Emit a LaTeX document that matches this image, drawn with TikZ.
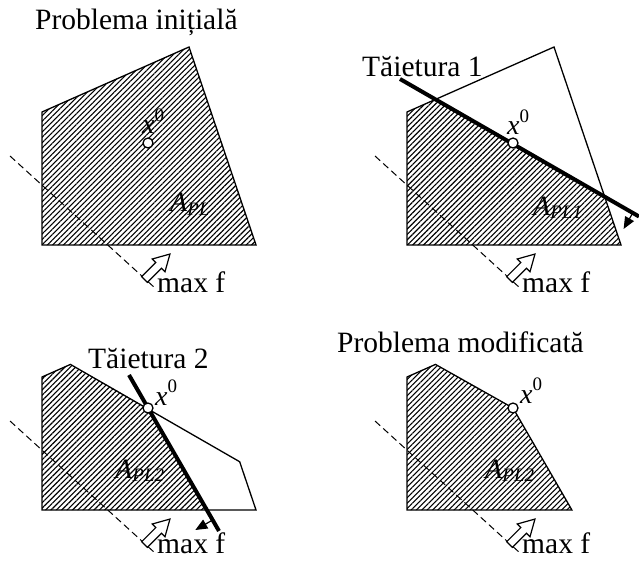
\documentclass[tikz,border=0pt]{standalone}
\usepackage{fontspec}
\setmainfont{Liberation Serif}
\usetikzlibrary{patterns.meta,arrows.meta,calc}

\newcommand\defgeom[1]{%
  \coordinate (P1#1) at (42,245);
  \coordinate (P2#1) at (42,112);
  \coordinate (P3#1) at (189,47);
  \coordinate (P4#1) at (256,245);
  \coordinate (X0#1) at (148,143);
  \coordinate (CutA#1) at (35,79);
  \coordinate (CutB#1) at (274,216.5);
  \coordinate (CutC#1) at (129,110);
  \coordinate (CutD#1) at (219,266);
  \coordinate (Ka#1) at (intersection of P2#1--P3#1 and CutA#1--CutB#1);
  \coordinate (Kb#1) at (intersection of P3#1--P4#1 and CutA#1--CutB#1);
  \coordinate (Lb#1) at (intersection of P1#1--P4#1 and CutC#1--CutD#1);
  \coordinate (D1#1) at (10,156);
  \coordinate (D2#1) at (155,288);
}
\newcommand\maxfgroup[2]{%
  \draw[dashline] (D1#1) -- (D2#1);
  \begin{scope}[shift={(144.5,279.5)},rotate=45]
    \draw[hollow] (0,4) -- (20,4) -- (20,9) -- (36,0) -- (20,-9) -- (20,-4) -- (0,-4) -- cycle;
  \end{scope}
  \node[lbl] (maxf#1) at (157,#2) {max f};
}

\begin{document}
\begin{tikzpicture}[x=1pt,y=-1pt,
  hatch/.style={pattern={Lines[angle=45,distance=3.8pt,line width=1.1pt]}},
  outline/.style={line width=1.3pt,line join=miter},
  cutline/.style={line width=4pt},
  dashline/.style={line width=1pt,dash pattern=on 7pt off 4pt},
  sidearrow/.style={line width=1.2pt,-{Triangle[length=12pt,width=10pt]}},
  pointmark/.style={circle,draw,fill=white,line width=1.3pt,minimum size=10pt,inner sep=0pt},
  lbl/.style={inner sep=0pt,anchor=base west,font=\fontsize{29.5}{34}\selectfont},
  xlbl/.style={inner sep=0pt,anchor=base west,font=\fontsize{28}{30}\selectfont},
  hollow/.style={draw,fill=white,line width=1.2pt,line join=miter}
]
\useasboundingbox (0,0) rectangle (639,561);

% ---------- Panel 1 ----------
\begin{scope}
  \defgeom{a}
  \draw[outline,hatch] (P1a) -- (P2a) -- (P3a) -- (P4a) -- cycle;
  \maxfgroup{a}{292}
  \node[pointmark] (pa) at (X0a) {};
  \node[xlbl] (xa) at (142,134) {\textit{x}\raisebox{0.45em}{\fontsize{19}{19}\selectfont 0}};
  \node[xlbl] (aa) at (170,212) {\textit{A}\raisebox{-0.12em}{\fontsize{19}{19}\selectfont\textit{PL}}};
  \node[lbl] (ta) at (35,30) {Problema inițială};
\end{scope}

% ---------- Panel 2 ----------
\begin{scope}[shift={(365,0)}]
  \defgeom{b}
  \fill[hatch] (P1b) -- (P2b) -- (Kab) -- (Kbb) -- (P4b) -- cycle;
  \draw[outline] (P1b) -- (P2b) -- (P3b) -- (P4b) -- cycle;
  \maxfgroup{b}{292}
  \node[lbl] (tb) at (-3,77) {Tăietura 1};
  \draw[cutline] (CutAb) -- (CutBb);
  \coordinate (S1b) at (268,212.5);
  \coordinate (S2b) at (258.6,229);
  \draw[sidearrow] (S1b) -- (S2b);
  \node[pointmark] (pb) at (X0b) {};
  \node[xlbl] (xb) at (142,135) {\textit{x}\raisebox{0.45em}{\fontsize{19}{19}\selectfont 0}};
  \node[xlbl] (ab) at (168,215) {\textit{A}\raisebox{-0.12em}{\fontsize{19}{19}\selectfont\textit{PL1}}};
\end{scope}

% ---------- Panel 3 ----------
\begin{scope}[shift={(0,265)}]
  \defgeom{c}
  \fill[hatch] (P1c) -- (P2c) -- (Kac) -- (X0c) -- (Lbc) -- cycle;
  \draw[outline] (P1c) -- (P2c) -- (Kac) -- (Kbc) -- (P4c) -- cycle;
  \maxfgroup{c}{288}
  \node[lbl] (tc) at (88,103) {Tăietura 2};
  \draw[cutline] (CutCc) -- (CutDc);
  \coordinate (S1c) at (212.6,255);
  \coordinate (S2c) at (195.3,265);
  \draw[sidearrow] (S1c) -- (S2c);
  \node[pointmark] (pc) at (X0c) {};
  \node[xlbl] (xc) at (155,140) {\textit{x}\raisebox{0.45em}{\fontsize{19}{19}\selectfont 0}};
  \node[xlbl] (ac) at (115,213) {\textit{A}\raisebox{-0.12em}{\fontsize{19}{19}\selectfont\textit{PL2}}};
\end{scope}

% ---------- Panel 4 ----------
\begin{scope}[shift={(365,265)}]
  \defgeom{d}
  \draw[outline,hatch] (P1d) -- (P2d) -- (Kad) -- (X0d) -- (Lbd) -- cycle;
  \maxfgroup{d}{288}
  \node[pointmark] (pd) at (X0d) {};
  \node[xlbl] (xd) at (155,138) {\textit{x}\raisebox{0.45em}{\fontsize{19}{19}\selectfont 0}};
  \node[xlbl] (ad) at (120,213) {\textit{A}\raisebox{-0.12em}{\fontsize{19}{19}\selectfont\textit{PL2}}};
  \node[lbl] (td) at (-28,87) {Problema modificată};
\end{scope}
\end{tikzpicture}
\end{document}
